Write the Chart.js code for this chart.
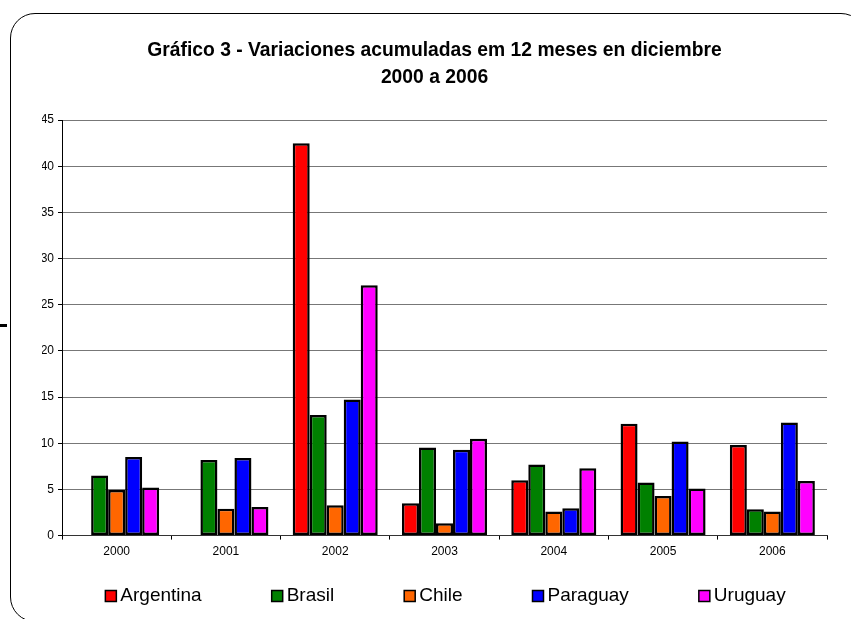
<!DOCTYPE html>
<html>
<head>
<meta charset="utf-8">
<script src="https://cdn.jsdelivr.net/npm/chart.js@4"></script>
<style>
  html, body { margin: 0; padding: 0; background: #fff; overflow: hidden; }
  #wrap { position: relative; width: 851px; height: 619px; }
  #frame {
    position: absolute; left: 10px; top: 13px; width: 854px; height: 607px;
    border: 1.5px solid #000; border-radius: 25px;
  }
  #dash { position: absolute; left: 0; top: 324px; width: 7px; height: 3px; background: #000; }
  canvas { position: absolute; left: 0; top: 0; }
</style>
</head>
<body>
<div id="wrap">
  <div id="frame"></div>
  <div id="dash"></div>
  <canvas id="myChart" width="851" height="619"></canvas>
</div>
<script>
const years = ["2000", "2001", "2002", "2003", "2004", "2005", "2006"];
const argentina = [null, null, 42.5, 3.5, 6.0, 12.1, 9.8];
const brasil = [6.5, 8.2, 13.05, 9.55, 7.7, 5.75, 2.85];
const chile = [4.95, 2.9, 3.3, 1.35, 2.6, 4.3, 2.6];
const paraguay = [8.5, 8.4, 14.75, 9.3, 2.95, 10.2, 12.25];
const uruguay = [5.2, 3.1, 27.1, 10.5, 7.3, 5.1, 5.9];
const titleLines = ["Gráfico 3 - Variaciones acumuladas em 12 meses en diciembre", "2000 a 2006"];

const font = "'Liberation Sans', Arial, sans-serif";

// legend drawn by hand so the gaps between items match the picture
const bottomLegend = {
  id: "bottomLegend",
  afterDraw(chart) {
    const ctx = chart.ctx;
    const box = 11;
    const gap = 4;
    const spacing = 70;
    ctx.save();
    ctx.font = "19px " + font;
    const items = chart.data.datasets.map((ds) => ({
      ds: ds,
      w: box + gap + ctx.measureText(ds.label).width,
    }));
    const total = items.reduce((s, it) => s + it.w, 0) + spacing * (items.length - 1);
    let x = (chart.chartArea.left + chart.chartArea.right) / 2 + 1 - total / 2;
    const y = 596;
    items.forEach((it) => {
      ctx.fillStyle = it.ds.backgroundColor;
      ctx.fillRect(x, y - box / 2, box, box);
      ctx.lineWidth = 1.5;
      ctx.strokeStyle = "#000";
      ctx.strokeRect(x, y - box / 2, box, box);
      ctx.fillStyle = "#000";
      ctx.textBaseline = "middle";
      ctx.textAlign = "left";
      ctx.fillText(it.ds.label, x + box + gap, y);
      x += it.w + spacing;
    });
    ctx.restore();
  },
};

function makeSet(label, data, color) {
  return {
    label: label,
    data: data,
    backgroundColor: color,
    borderColor: "#000",
    borderWidth: 2.5,
    borderSkipped: false,
    categoryPercentage: 0.778,
    barPercentage: 1,
  };
}

const ctx = document.getElementById("myChart").getContext("2d");
const chart = new Chart(ctx, {
  type: "bar",
  data: {
    labels: years,
    datasets: [
      makeSet("Argentina", argentina, "#FF0000"),
      makeSet("Brasil", brasil, "#008000"),
      makeSet("Chile", chile, "#FF6600"),
      makeSet("Paraguay", paraguay, "#0000FF"),
      makeSet("Uruguay", uruguay, "#FF00FF"),
    ],
  },
  options: {
    responsive: false,
    animation: false,
    // left padding shifts the title centre; the y axis labels still draw left of it
    layout: { padding: { left: 42, right: 24, top: 0, bottom: 55 } },
    plugins: {
      legend: { display: false },
      tooltip: { enabled: false },
      title: {
        display: true,
        text: titleLines,
        color: "#000",
        font: { family: font, size: 19.3, weight: "bold", lineHeight: 1.4 },
        padding: { top: 37, bottom: 29 },
      },
    },
    scales: {
      x: {
        grid: {
          offset: true,
          drawOnChartArea: false,
          tickLength: 4,
          color: "#000",
        },
        border: { color: "#333", width: 1 },
        ticks: { color: "#000", font: { family: font, size: 12 }, padding: 5 },
      },
      y: {
        min: 0,
        max: 45,
        ticks: { stepSize: 5, color: "#000", font: { family: font, size: 12 }, padding: 4 },
        grid: { color: "#777", tickColor: "#000", tickLength: 4 },
        border: { color: "#000", width: 1 },
        afterFit: (scale) => {
          scale.width = 20;
        },
      },
    },
  },
  plugins: [bottomLegend],
});
</script>
</body>
</html>
